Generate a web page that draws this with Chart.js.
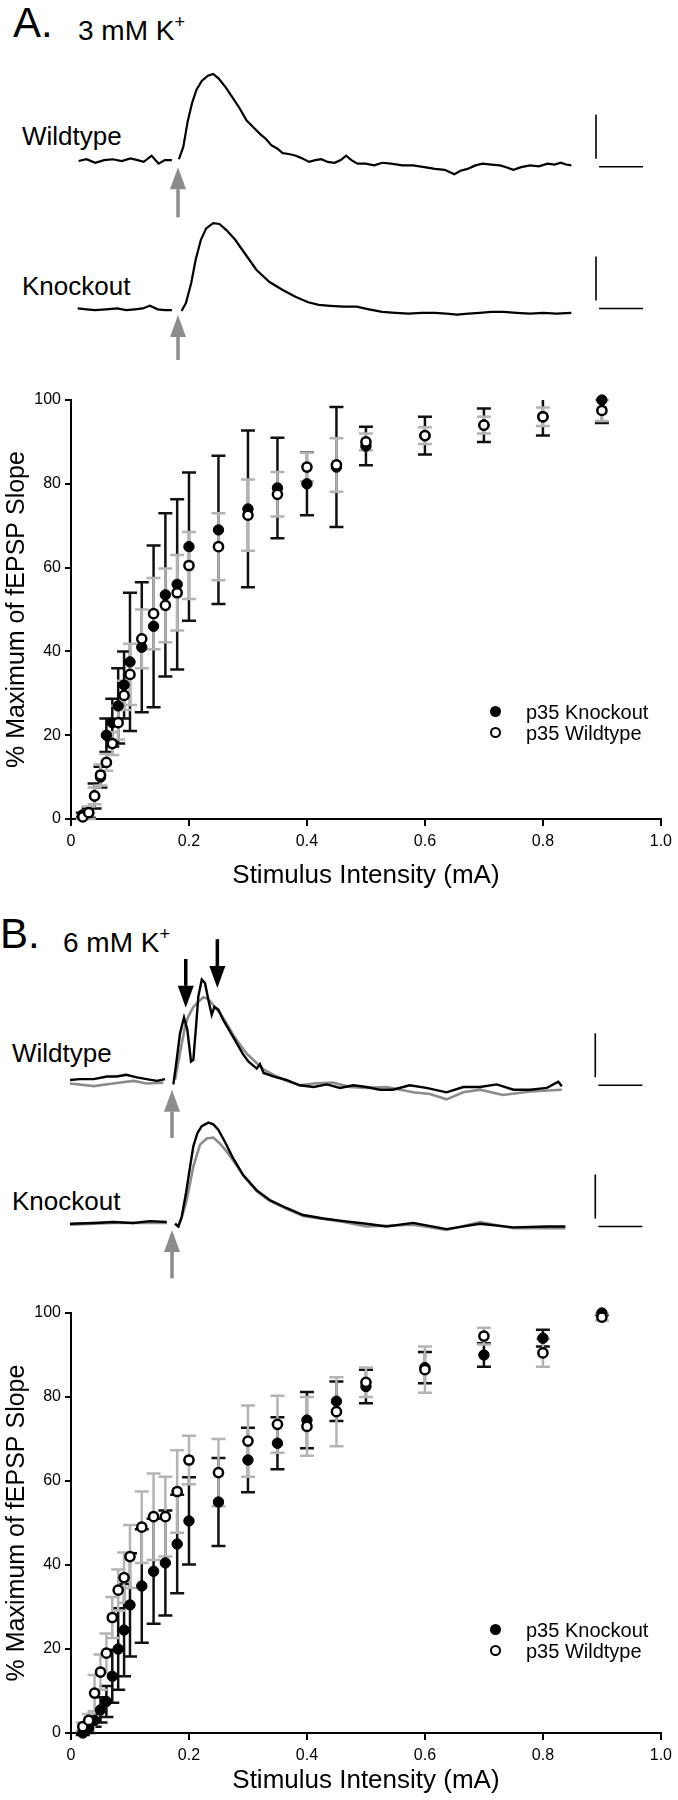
<!DOCTYPE html>
<html>
<head>
<meta charset="utf-8">
<script src="https://cdn.jsdelivr.net/npm/chart.js@4/dist/chart.umd.min.js"></script>
<style>
  body { margin: 0; background: #fff; width: 678px; height: 1800px; position: relative; overflow: hidden;
         font-family: "Liberation Sans", Arial, sans-serif; color: #000; }
  canvas { position: absolute; left: 0; }
  .txt { position: absolute; line-height: 1; white-space: nowrap; }
  .panel { font-size: 42px; }
  .cond { font-size: 28px; }
  .cond sup { font-size: 18px; vertical-align: 12px; }
  .lab { font-size: 26px; }
  .leg { font-size: 20px; }
  .dot { position: absolute; width: 11px; height: 11px; border-radius: 50%; box-sizing: border-box; }
  .dot.fill { background: #000; }
  .dot.open { background: #fff; border: 2.5px solid #000; }
</style>
</head>
<body>

<div class="txt panel" style="left:13px; top:2px;">A.</div>
<div class="txt cond" style="left:78px; top:13px;">3 mM K<sup>+</sup></div>
<div class="txt lab" style="left:22px; top:123px;">Wildtype</div>
<div class="txt lab" style="left:22px; top:273px;">Knockout</div>
<canvas id="tracesA" width="678" height="320" style="top:40px;"></canvas>

<canvas id="chartA" width="678" height="530" style="top:365px;"></canvas>
<div class="dot fill" style="left:490px; top:706px;"></div>
<div class="txt leg" style="left:526px; top:702px;">p35 Knockout</div>
<div class="dot open" style="left:490px; top:727px;"></div>
<div class="txt leg" style="left:526px; top:723px;">p35 Wildtype</div>

<div class="txt panel" style="left:0px; top:913px;">B.</div>
<div class="txt cond" style="left:63px; top:925px;">6 mM K<sup>+</sup></div>
<div class="txt lab" style="left:12px; top:1040px;">Wildtype</div>
<div class="txt lab" style="left:12px; top:1188px;">Knockout</div>
<canvas id="tracesB" width="678" height="390" style="top:900px;"></canvas>

<canvas id="chartB" width="678" height="505" style="top:1295px;"></canvas>
<div class="dot fill" style="left:490px; top:1624px;"></div>
<div class="txt leg" style="left:526px; top:1620px;">p35 Knockout</div>
<div class="dot open" style="left:490px; top:1645px;"></div>
<div class="txt leg" style="left:526px; top:1641px;">p35 Wildtype</div>

<script>
// ---- input/output data (% of max fEPSP slope, mean and SEM) ----
const intensity = [0.02, 0.03, 0.04, 0.05, 0.06, 0.07, 0.08, 0.09, 0.10, 0.12, 0.14, 0.16,
                   0.18, 0.20, 0.25, 0.30, 0.35, 0.40, 0.45, 0.50, 0.60, 0.70, 0.80, 0.90];

// 3 mM K+
const koA    = [1, 1.5, 5.5, 10, 20, 23, 27, 32, 37.5, 41, 46, 53.5, 56, 65, 69, 74, 79, 80, 84, 89, 91.5, 94, 96, 100];
const koAErr = [0.5, 1.2, 3, 2.5, 4, 5.7, 9, 8, 16.5, 15.5, 19.3, 19.5, 20.3, 17.7, 17.7, 18.7, 12, 7.5, 14.3, 4.6, 4.5, 4, 4.5, 5.5];
const wtA    = [0.5, 1.5, 5.5, 10.5, 13.5, 18, 23, 29.5, 34.5, 43, 49, 51, 54, 60.5, 65, 72.5, 77.5, 84, 84.5, 90, 91.5, 94, 96, 97.5];
const wtAErr = [0.5, 1.5, 2, 2.5, 2, 2.7, 4, 3.5, 7.3, 7, 8.5, 8.8, 9, 8, 8, 8.5, 5.3, 3.4, 6.4, 2, 2, 2, 2.2, 2.5];

// 6 mM K+
const koB    = [0, 1, 3, 5.5, 7.5, 13.5, 20, 24.5, 30.5, 35, 38.5, 40.5, 45, 50.5, 55, 65, 69, 74.5, 79, 82.5, 87, 90, 94, 100];
const koBErr = [0.5, 1, 1.5, 3, 3.7, 6.3, 9.7, 11, 12.3, 13.5, 12.5, 12.5, 11.7, 10.4, 10.5, 7.7, 6.2, 6.7, 4.7, 4, 3.7, 2.8, 2, 0.5];
const wtB    = [1.5, 3, 9.5, 14.5, 19, 27.5, 34, 37, 42, 49, 51.5, 51.5, 57.5, 65, 62, 69.5, 73.5, 73, 76.5, 83.5, 86.5, 94.5, 90.5, 99];
const wtBErr = [1, 1.5, 4.3, 4.2, 4.7, 4.9, 4.9, 6, 7.5, 8.5, 10.3, 9.5, 9.8, 5.8, 8, 8.5, 6.8, 7, 8.2, 3.5, 5.5, 2, 3.3, 0.8];

const yTicks = [0, 20, 40, 60, 80, 100];
const xTicks = [0, 0.2, 0.4, 0.6, 0.8, 1.0];

// ---- example fEPSP traces (time in ms from stimulus, amplitude in mV, null = blanked artifact) ----
const trWtA_t = [-11.3,-10.4,-9.4,-8.4,-7.4,-6.4,-5.4,-4.6,-3.9,-3.0,-2.2,-1.5,-0.7,-0.3,0.1,0.6,1.1,1.6,2.1,2.7,3.4,4.0,4.6,5.4,6.2,7.0,7.8,8.5,9.4,10.0,10.6,11.3,11.9,12.6,13.4,14.1,14.9,15.6,16.3,17.0,17.8,18.5,19.1,19.7,20.4,21.3,22.3,23.2,24.2,25.5,26.7,28.0,29.2,30.3,31.4,32.1,32.9,33.8,34.6,35.6,36.6,37.3,38.1,39.0,40.0,41.0,42.0,42.8,43.5,44.1,44.7];
const trWtA_v = [0.00,0.02,-0.02,0.01,0.02,0.00,0.03,0.01,-0.01,0.06,-0.03,0.01,0.01,null,0.02,0.16,0.45,0.66,0.81,0.91,0.97,0.99,0.94,0.84,0.72,0.60,0.46,0.39,0.30,0.25,0.18,0.14,0.09,0.08,0.06,0.03,-0.01,0.01,0.02,-0.01,-0.02,0.01,0.06,0.01,-0.03,-0.03,-0.05,-0.02,-0.03,-0.05,-0.05,-0.07,-0.09,-0.10,-0.15,-0.11,-0.09,-0.05,-0.03,-0.04,-0.05,-0.07,-0.10,-0.07,-0.05,-0.06,-0.03,-0.04,-0.02,-0.04,-0.05];

const trKoA_t = [-11.4,-10.4,-9.4,-8.2,-6.9,-5.9,-4.9,-4.0,-3.2,-2.3,-1.5,-0.7,-0.2,0.4,0.9,1.5,2.0,2.6,3.2,4.0,4.7,5.5,6.5,7.7,8.9,10.4,11.9,13.4,14.8,16.0,17.3,18.8,20.3,21.7,23.2,24.7,26.2,27.7,29.2,30.5,31.7,33.0,34.3,35.6,37.0,38.5,40.0,41.5,43.0,44.7];
const trKoA_v = [0.01,0.00,-0.01,0.00,0.01,-0.01,0.00,0.01,0.04,0.00,-0.01,-0.01,null,-0.02,0.07,0.30,0.56,0.79,0.92,0.98,0.97,0.90,0.79,0.62,0.45,0.31,0.22,0.14,0.08,0.05,0.04,0.03,0.03,0.00,-0.03,-0.04,-0.05,-0.04,-0.04,-0.05,-0.06,-0.05,-0.04,-0.03,-0.03,-0.04,-0.05,-0.04,-0.05,-0.04];

const trWtB_t = [-11.6,-10.5,-8.9,-7.4,-6.3,-5.2,-4.0,-2.9,-1.7,-0.8,-0.3,0.15,0.53,0.91,1.36,1.74,2.16,2.42,2.73,2.99,3.38,3.75,4.13,4.51,4.81,5.26,5.83,6.59,7.35,8.03,8.67,9.63,10.0,10.4,11.5,13.0,14.5,16.1,17.6,19.1,20.6,22.1,23.6,25.1,27.0,28.9,31.2,33.1,35.0,36.9,38.8,40.7,42.6,43.9,44.3];
const trWtB_v = [0.00,0.01,0.01,0.04,0.04,0.06,0.03,0.01,-0.01,0.01,null,-0.05,0.23,0.53,0.71,0.57,0.21,0.23,0.61,0.95,1.14,1.10,0.91,0.74,0.83,0.80,0.68,0.55,0.42,0.30,0.21,0.13,0.18,0.08,0.04,0.00,-0.06,-0.08,-0.05,-0.09,-0.06,-0.08,-0.11,-0.11,-0.06,-0.09,-0.14,-0.08,-0.08,-0.05,-0.11,-0.11,-0.09,-0.02,-0.07];

const trWtB2_t = [-11.6,-8.9,-6.7,-4.4,-2.9,-1.0,-0.3,0.34,0.91,1.48,1.85,2.42,2.99,3.56,4.13,4.69,5.45,6.22,6.97,7.73,8.49,9.43,10.4,11.5,13.0,14.5,16.1,18.3,20.2,22.1,24.4,27.4,29.3,31.2,33.1,35.0,37.6,40.7,44.3];
const trWtB2_v = [-0.04,-0.07,-0.04,-0.01,-0.04,-0.03,null,0.00,0.31,0.61,0.72,0.83,0.89,0.94,0.92,0.85,0.76,0.64,0.51,0.40,0.30,0.21,0.12,0.06,-0.01,-0.06,-0.04,-0.03,-0.08,-0.09,-0.08,-0.14,-0.16,-0.22,-0.14,-0.11,-0.17,-0.13,-0.11];

const trKoB_t = [-11.6,-8.9,-6.7,-4.4,-2.5,-0.6,-0.2,0.34,0.72,1.10,1.59,2.05,2.42,2.88,3.38,4.13,4.69,5.26,6.02,6.97,8.10,9.63,11.1,13.0,14.9,17.2,19.5,22.1,24.4,27.4,31.2,35.0,38.8,42.6,44.7];
const trKoB_v = [-0.02,-0.01,0.00,-0.01,0.01,0.00,null,-0.02,-0.05,0.06,0.33,0.63,0.86,1.01,1.09,1.13,1.11,1.05,0.91,0.72,0.53,0.36,0.25,0.16,0.08,0.04,0.01,-0.02,-0.05,-0.01,-0.08,-0.02,-0.06,-0.05,-0.05];

const trKoB2_t = [-11.6,-6.7,-0.6,-0.2,0.34,0.72,1.10,1.67,2.42,3.18,3.94,4.69,5.45,6.22,7.16,8.10,9.63,11.1,13.0,14.9,19.5,22.1,27.4,31.2,35.0,38.8,44.7];
const trKoB2_v = [-0.03,-0.01,-0.01,null,-0.02,-0.05,0.05,0.25,0.63,0.88,0.95,0.96,0.89,0.80,0.67,0.53,0.35,0.24,0.15,0.07,0.00,-0.05,-0.03,-0.09,0.00,-0.07,-0.07];

const SCALE_MS = 5;    // horizontal scale bar
const SCALE_MV = 0.5;  // vertical scale bar

Chart.defaults.font.family = '"Liberation Sans", Arial, sans-serif';
Chart.defaults.color = '#000';

function pts(xs, ys, offset) {
    return xs.map((x, i) => ({ x: x, y: ys[i] === null ? null : ys[i] + (offset || 0) }));
}

// error bars drawn under the markers, black (knockout) first, then grey (wildtype)
// bars are cut at the top of the axis (100 %), as in the original figure
const errorBars = {
    id: "errorBars",
    beforeDatasetsDraw(chart) {
        const { ctx, scales: { x, y } } = chart;
        const cap = 7;
        ctx.save();
        chart.data.datasets.slice().reverse().forEach(ds => {
            if (!ds.errors) return;
            ctx.strokeStyle = ds.errorColor;
            ctx.lineWidth = 2.5;
            ds.data.forEach((p, i) => {
                const hi = p.y + ds.errors[i];
                const px = x.getPixelForValue(p.x);
                const top = y.getPixelForValue(Math.min(hi, y.max));
                const bot = y.getPixelForValue(p.y - ds.errors[i]);
                ctx.beginPath();
                ctx.moveTo(px, top); ctx.lineTo(px, bot);
                if (hi <= y.max) {
                    ctx.moveTo(px - cap, top); ctx.lineTo(px + cap, top);
                }
                ctx.moveTo(px - cap, bot); ctx.lineTo(px + cap, bot);
                ctx.stroke();
            });
        });
        ctx.restore();
    }
};

// stimulus arrows and scale bars on the trace panels
const traceMarks = {
    id: "traceMarks",
    afterDatasetsDraw(chart, args, opts) {
        const { ctx, scales: { x, y } } = chart;
        ctx.save();
        (opts.arrows || []).forEach(a => {
            const px = x.getPixelForValue(a.t);
            const tip = y.getPixelForValue(a.tip);
            const tail = y.getPixelForValue(a.tail);
            const dir = tail > tip ? 1 : -1;
            const head = 22, half = 8;
            ctx.strokeStyle = a.color;
            ctx.fillStyle = a.color;
            ctx.lineWidth = 3.5;
            ctx.beginPath();
            ctx.moveTo(px, tail);
            ctx.lineTo(px, tip + dir * head);
            ctx.stroke();
            ctx.beginPath();
            ctx.moveTo(px, tip);
            ctx.lineTo(px - half, tip + dir * head);
            ctx.lineTo(px + half, tip + dir * head);
            ctx.closePath();
            ctx.fill();
        });
        ctx.strokeStyle = "#000";
        ctx.lineWidth = 1.6;
        (opts.bars || []).forEach(b => {
            ctx.beginPath();
            ctx.moveTo(x.getPixelForValue(b.t), y.getPixelForValue(b.h + 0.09));
            ctx.lineTo(x.getPixelForValue(b.t), y.getPixelForValue(b.h + 0.09 + SCALE_MV));
            ctx.moveTo(x.getPixelForValue(b.t + 0.35), y.getPixelForValue(b.h));
            ctx.lineTo(x.getPixelForValue(b.t + 0.35 + SCALE_MS), y.getPixelForValue(b.h));
            ctx.stroke();
        });
        ctx.restore();
    }
};

function traceLine(data, color, width) {
    return {
        data: data,
        showLine: true,
        borderColor: color,
        borderWidth: width,
        pointRadius: 0,
        tension: 0,
        spanGaps: false,
        clip: false
    };
}

function makeTraces(id, range, datasets, marks) {
    return new Chart(document.getElementById(id), {
        type: "scatter",
        data: { datasets: datasets },
        options: {
            responsive: false,
            animation: false,
            events: [],
            layout: { padding: 0 },
            plugins: { legend: { display: false }, tooltip: { enabled: false }, traceMarks: marks },
            scales: {
                x: { type: "linear", display: false, min: range[0], max: range[1] },
                y: { type: "linear", display: false, min: range[2], max: range[3] }
            }
        },
        plugins: [traceMarks]
    });
}

function makeIO(id, ko, koErr, wt, wtErr, padTop, xAxisHeight) {
    return new Chart(document.getElementById(id), {
        type: "scatter",
        data: {
            datasets: [
                {
                    label: "p35 Wildtype",
                    data: pts(intensity, wt),
                    errors: wtErr,
                    errorColor: "#b4b4b4",
                    pointRadius: 4.6,
                    pointBorderWidth: 2.5,
                    pointBackgroundColor: "#fff",
                    pointBorderColor: "#000",
                    clip: false
                },
                {
                    label: "p35 Knockout",
                    data: pts(intensity, ko),
                    errors: koErr,
                    errorColor: "#111",
                    pointRadius: 5.2,
                    pointBorderWidth: 1,
                    pointBackgroundColor: "#000",
                    pointBorderColor: "#000",
                    clip: false
                }
            ]
        },
        options: {
            responsive: false,
            animation: false,
            events: [],
            layout: { padding: { top: padTop, right: 10, left: 0, bottom: 0 } },
            plugins: { legend: { display: false }, tooltip: { enabled: false } },
            scales: {
                x: {
                    type: "linear",
                    min: 0, max: 1,
                    afterBuildTicks: s => { s.ticks = xTicks.map(v => ({ value: v })); },
                    afterFit: s => { s.height = xAxisHeight; },
                    grid: { drawOnChartArea: false, drawTicks: true, tickLength: 7, color: "#000", lineWidth: 2 },
                    border: { display: true, color: "#000", width: 2 },
                    ticks: { font: { size: 16 }, padding: 6, color: "#000",
                             callback: v => v === 0 ? "0" : v.toFixed(1) },
                    title: { display: true, text: "Stimulus Intensity (mA)", font: { size: 26 }, color: "#000" }
                },
                y: {
                    type: "linear",
                    min: 0, max: 100,
                    afterBuildTicks: s => { s.ticks = yTicks.map(v => ({ value: v })); },
                    afterFit: s => { s.width = 71; },
                    grid: { drawOnChartArea: false, drawTicks: true, tickLength: 6, color: "#000", lineWidth: 2 },
                    border: { display: true, color: "#000", width: 2 },
                    ticks: { font: { size: 16 }, padding: 4, color: "#000" },
                    title: { display: true, text: "% Maximum of fEPSP Slope", font: { size: 25 }, color: "#000",
                             padding: { top: 2, bottom: 2 } }
                }
            }
        },
        plugins: [errorBars]
    });
}

// panel A traces: stimulus at 178 px, 8.8 px per ms, 88 px per mV
const koOffsetA = -1.685;
makeTraces("tracesA", [-20.23, 56.82, -2.261, 1.375], [
    traceLine(pts(trWtA_t, trWtA_v), "#000", 2.2),
    traceLine(pts(trKoA_t, trKoA_v, koOffsetA), "#000", 2.2)
], {
    arrows: [
        { t: 0, tip: -0.07, tail: -0.64, color: "#8c8c8c" },
        { t: 0, tip: koOffsetA - 0.065, tail: koOffsetA - 0.62, color: "#8c8c8c" }
    ],
    bars: [
        { t: 47.5, h: -0.065 },
        { t: 47.5, h: koOffsetA + 0.01 }
    ]
});

makeIO("chartA", koA, koAErr, wtA, wtAErr, 35, 76);

// panel B traces: black = recording in 6 mM K+, grey = overlay
const koOffsetB = -1.614;
makeTraces("tracesB", [-19.55, 57.5, -2.386, 2.045], [
    traceLine(pts(trWtB_t, trWtB_v), "#000", 2.4),
    traceLine(pts(trKoB_t, trKoB_v, koOffsetB), "#000", 2.4),
    traceLine(pts(trWtB2_t, trWtB2_v), "#8c8c8c", 2.6),
    traceLine(pts(trKoB2_t, trKoB2_v, koOffsetB), "#8c8c8c", 2.6)
], {
    arrows: [
        { t: 0, tip: -0.11, tail: -0.66, color: "#8c8c8c" },
        { t: 0, tip: koOffsetB - 0.09, tail: koOffsetB - 0.64, color: "#8c8c8c" },
        { t: 1.56, tip: 0.82, tail: 1.375, color: "#000" },
        { t: 5.15, tip: 1.045, tail: 1.60, color: "#000" }
    ],
    bars: [
        { t: 48.1, h: -0.06 },
        { t: 48.1, h: koOffsetB - 0.05 }
    ]
});

makeIO("chartB", koB, koBErr, wtB, wtBErr, 18, 67);
</script>
</body>
</html>
